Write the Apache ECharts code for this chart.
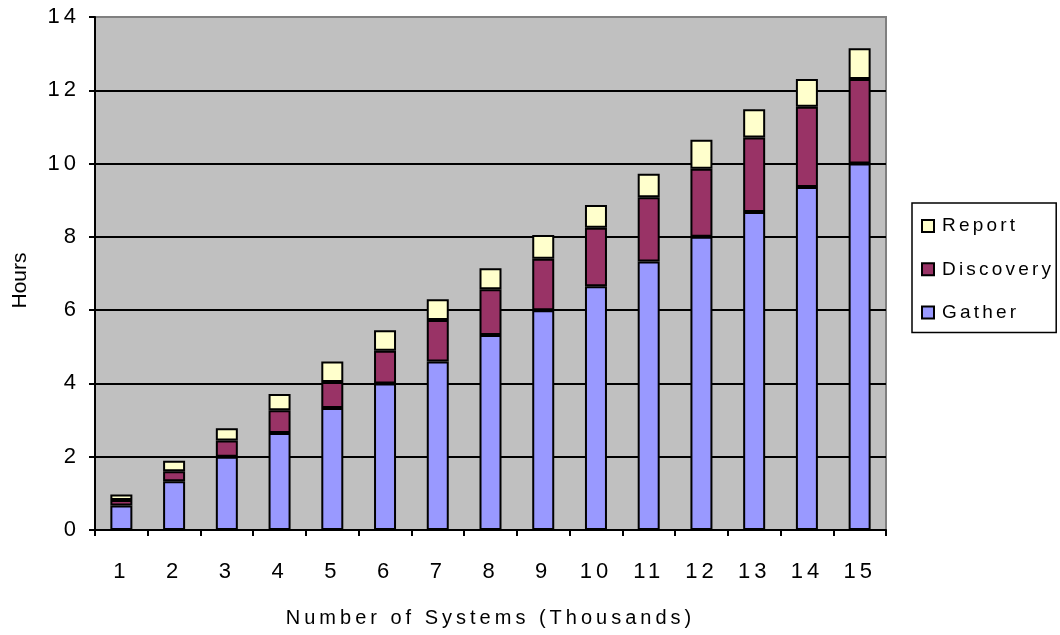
<!DOCTYPE html>
<html>
<head>
<meta charset="utf-8">
<script src="https://cdn.jsdelivr.net/npm/echarts@6/dist/echarts.min.js"></script>
<style>
  html, body { margin: 0; padding: 0; background: #ffffff; }
  #chart { width: 1060px; height: 635px; }
</style>
</head>
<body>
<div id="chart"></div>
<script>
// Number of systems, in thousands
const categories = ['1', '2', '3', '4', '5', '6', '7', '8', '9', '10', '11', '12', '13', '14', '15'];

// Hours spent per phase (stacked)
const gather    = [0.67, 1.33, 2.0, 2.65, 3.33, 4.0, 4.6, 5.32, 6.0, 6.65, 7.33, 8.0, 8.68, 9.36, 10.0];
const discovery = [0.15, 0.27, 0.44, 0.62, 0.71, 0.89, 1.13, 1.25, 1.4, 1.6, 1.75, 1.86, 2.03, 2.19, 2.31];
const report    = [0.15, 0.29, 0.34, 0.44, 0.56, 0.56, 0.57, 0.57, 0.65, 0.62, 0.64, 0.79, 0.77, 0.76, 0.84];

const yTicks = { min: 0, max: 14, interval: 2 };

// Wide, evenly tracked lettering: canvas letterSpacing keyed by font size.
const TRACKING = { 22: '4px', 20: '4px', 19: '3.2px', 21: '0px' };
(function () {
  const proto = CanvasRenderingContext2D.prototype;
  const desc = Object.getOwnPropertyDescriptor(proto, 'font');
  if (!desc || !('letterSpacing' in proto)) return;
  Object.defineProperty(proto, 'font', {
    configurable: true,
    get() { return desc.get.call(this); },
    set(v) {
      desc.set.call(this, v);
      const m = /(\d+(?:\.\d+)?)px/.exec(v);
      this.letterSpacing = (m && TRACKING[Math.round(+m[1])]) || '0px';
    }
  });
})();

const FONT = '"Liberation Sans", Arial, sans-serif';
const chart = echarts.init(document.getElementById('chart'), null, { renderer: 'canvas' });

const barStyle = (color) => ({ color: color, borderColor: '#000000', borderWidth: 2 });

chart.setOption({
  animation: false,
  backgroundColor: '#ffffff',
  textStyle: { fontFamily: FONT, color: '#000000' },
  grid: {
    left: 95, right: 174, top: 17, bottom: 103,
    show: true,
    backgroundColor: '#C0C0C0',
    borderColor: '#808080',
    borderWidth: 2
  },
  legend: {
    orient: 'vertical',
    left: 912,
    top: 203,
    data: ['Report', 'Discovery', 'Gather'],
    backgroundColor: '#ffffff',
    borderColor: '#000000',
    borderWidth: 1.5,
    borderRadius: 0,
    padding: [12, 2, 9, 9],
    itemGap: 21,
    itemWidth: 12,
    itemHeight: 12,
    icon: 'rect',
    textStyle: { fontFamily: FONT, fontSize: 19, color: '#000000', lineHeight: 19, padding: [0, 0, 0, 3] }
  },
  xAxis: {
    type: 'category',
    data: categories,
    name: 'Number of Systems (Thousands)',
    nameLocation: 'middle',
    nameGap: 76,
    nameTextStyle: { fontFamily: FONT, fontSize: 20, color: '#000000', verticalAlign: 'top' },
    axisLine: { lineStyle: { color: '#000000', width: 2 } },
    axisTick: { show: true, length: 6, alignWithLabel: false, lineStyle: { color: '#000000', width: 2 } },
    axisLabel: { fontFamily: FONT, fontSize: 22, color: '#000000', margin: 29 }
  },
  yAxis: {
    type: 'value',
    min: yTicks.min,
    max: yTicks.max,
    interval: yTicks.interval,
    name: 'Hours',
    nameLocation: 'middle',
    nameGap: 64,
    nameRotate: 90,
    nameTextStyle: { fontFamily: FONT, fontSize: 21, color: '#000000', padding: [0, 14, 0, 0] },
    axisLine: { show: true, lineStyle: { color: '#000000', width: 2 } },
    axisTick: { show: true, length: 6, lineStyle: { color: '#000000', width: 2 } },
    axisLabel: { fontFamily: FONT, fontSize: 22, color: '#000000', margin: 15 },
    splitLine: { show: true, showMinLine: false, showMaxLine: false, lineStyle: { color: '#000000', width: 2 } }
  },
  series: [
    { name: 'Gather', type: 'bar', stack: 'hours', data: gather, barWidth: 22, itemStyle: barStyle('#9999FF') },
    { name: 'Discovery', type: 'bar', stack: 'hours', data: discovery, barWidth: 22, itemStyle: barStyle('#993366') },
    { name: 'Report', type: 'bar', stack: 'hours', data: report, barWidth: 22, itemStyle: barStyle('#FFFFCC') }
  ]
});
</script>
</body>
</html>
